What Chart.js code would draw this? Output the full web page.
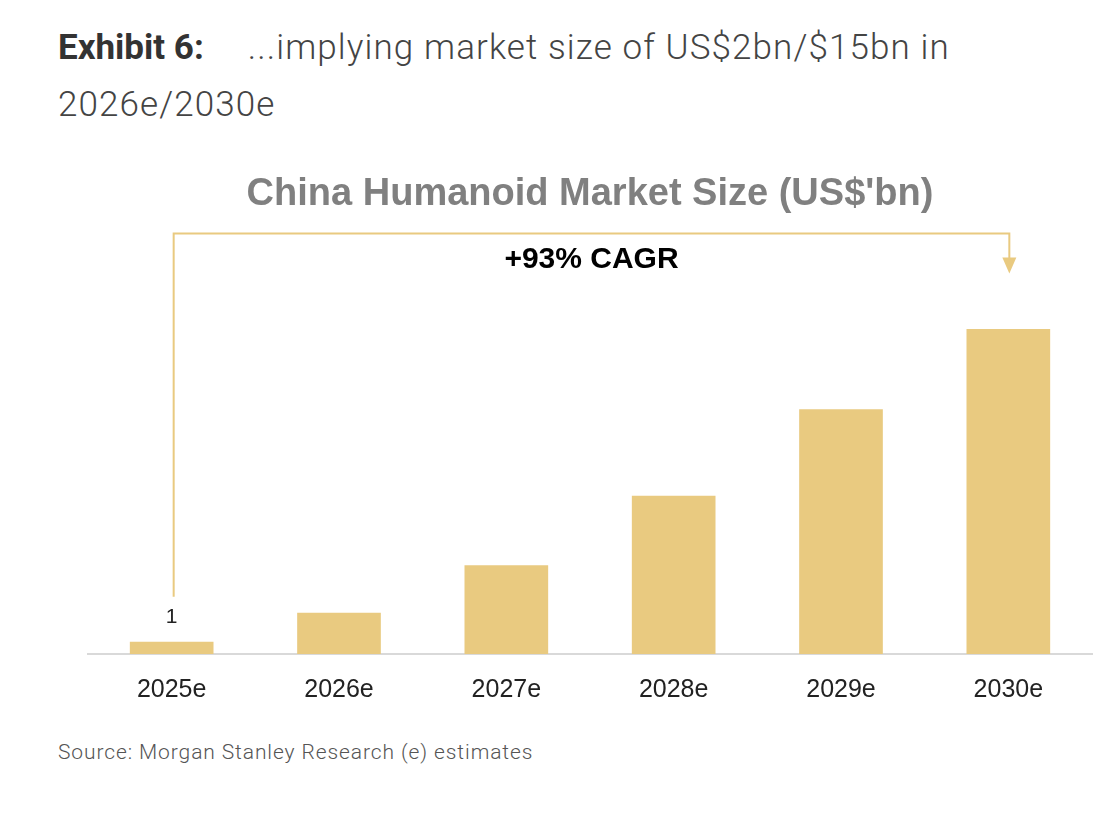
<!DOCTYPE html>
<html>
<head>
<meta charset="utf-8">
<script src="https://cdn.jsdelivr.net/npm/chart.js@4.4.1/dist/chart.umd.min.js"></script>
<style>
  body { margin: 0; background: #fff; width: 1116px; height: 818px; position: relative; overflow: hidden; }
  #head { position: absolute; left: 58px; top: 19px; width: 1050px; font-family: Roboto, "Open Sans", sans-serif; font-size: 35px; line-height: 57px; color: #444; font-weight: 300; letter-spacing: 1.1px; }
  #head b { font-weight: 700; color: #333; margin-right: 44px; letter-spacing: 0; }
  #wrap { position: absolute; left: 0; top: 150px; width: 1116px; height: 568px; }
  #src { position: absolute; left: 58px; top: 740px; font-family: Roboto, sans-serif; font-weight: 300; font-size: 21px; letter-spacing: 0.9px; color: #555; }
</style>
</head>
<body>
<div id="head"><b>Exhibit 6:</b>...implying market size of US$2bn/$15bn in<br>2026e/2030e</div>
<div id="wrap"><canvas id="MarketChart"></canvas></div>
<div id="src">Source: Morgan Stanley Research (e) estimates</div>
<script>
const years = ['2025e', '2026e', '2027e', '2028e', '2029e', '2030e'];
const marketSize = [0.56, 1.9, 4.1, 7.3, 11.3, 15.0];
const valueLabels = ['1', '', '', '', '', ''];
const cagrText = '+93% CAGR';

const barColor = "rgb(233, 202, 128)";

// bracket from first to last bar with CAGR text, plus the "1" label
const cagrPlugin = {
    id: 'cagr',
    afterDatasetsDraw(chart) {
        const ctx = chart.ctx;
        const x = chart.scales.x;
        const area = chart.chartArea;
        const meta = chart.getDatasetMeta(0);

        ctx.save();
        ctx.font = "21px 'Liberation Sans', Arial, sans-serif";
        ctx.fillStyle = "#222";
        ctx.textAlign = 'center';
        ctx.textBaseline = 'middle';
        meta.data.forEach((bar, i) => {
            if (valueLabels[i]) ctx.fillText(valueLabels[i], bar.x, bar.y - 25);
        });

        const x0 = x.getPixelForValue(0) + 2;
        const x1 = x.getPixelForValue(years.length - 1) + 1;
        const yTop = area.top + 2;
        const yLeft = meta.data[0].y - 45;
        ctx.strokeStyle = barColor;
        ctx.lineWidth = 2;
        ctx.beginPath();
        ctx.moveTo(x0, yLeft);
        ctx.lineTo(x0, yTop);
        ctx.lineTo(x1, yTop);
        ctx.lineTo(x1, yTop + 26);
        ctx.stroke();
        ctx.fillStyle = barColor;
        ctx.beginPath();
        ctx.moveTo(x1 - 7, yTop + 24);
        ctx.lineTo(x1 + 7, yTop + 24);
        ctx.lineTo(x1, yTop + 40);
        ctx.closePath();
        ctx.fill();

        ctx.fillStyle = "#000";
        ctx.font = "bold 30px 'Liberation Sans', Arial, sans-serif";
        ctx.fillText(cagrText, (x0 + x1) / 2, yTop + 26);
        ctx.restore();
    }
};

new Chart(document.querySelector('#MarketChart'), {
    type: 'bar',
    data: {
        labels: years,
        datasets: [{
            label: 'China Humanoid Market Size',
            data: marketSize,
            backgroundColor: barColor,
            categoryPercentage: 1,
            barPercentage: 0.5
        }]
    },
    options: {
        responsive: true,
        maintainAspectRatio: false,
        animation: false,
        layout: { padding: { left: 88, right: 24, top: 0, bottom: 0 } },
        plugins: {
            legend: { display: false },
            tooltip: { enabled: false },
            title: {
                display: true,
                text: "China Humanoid Market Size (US$'bn)",
                color: "#808080",
                font: { family: "'Liberation Sans', Arial, sans-serif", size: 38, weight: 'bold' },
                padding: { top: 22, bottom: 14 }
            }
        },
        scales: {
            x: {
                grid: { display: false },
                border: { display: true, color: "#d9d9d9", width: 2 },
                ticks: {
                    color: "#222",
                    padding: 13,
                    font: { family: "'Liberation Sans', Arial, sans-serif", size: 25 }
                }
            },
            y: {
                display: false,
                min: 0,
                max: 19.5
            }
        }
    },
    plugins: [cagrPlugin]
});
</script>
</body>
</html>
